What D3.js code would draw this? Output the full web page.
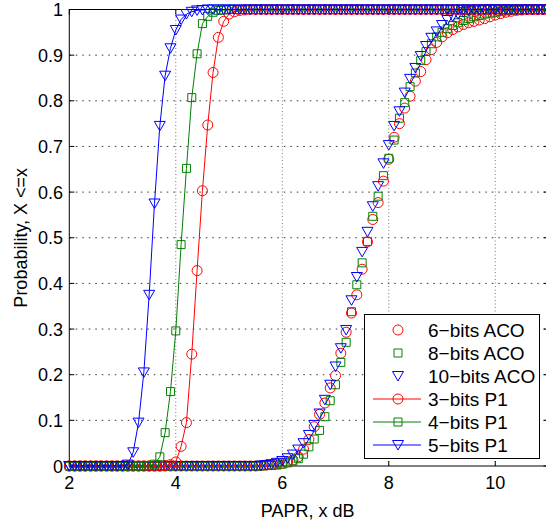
<!DOCTYPE html>
<html>
<head>
<meta charset="utf-8">
<script src="https://cdn.jsdelivr.net/npm/d3@7"></script>
<style>
  body { margin: 0; background: #fff; }
  svg text { font-family: "Liberation Sans", Arial, Helvetica, sans-serif; fill: #000; }
</style>
</head>
<body>
<div id="chart"></div>
<script>
// PAPR sample points (dB)
const papr = [
  2.0, 2.1, 2.2, 2.3, 2.4, 2.5, 2.6, 2.7, 2.8, 2.9,
  3.0, 3.1, 3.2, 3.3, 3.4, 3.5, 3.6, 3.7, 3.8, 3.9,
  4.0, 4.1, 4.2, 4.3, 4.4, 4.5, 4.6, 4.7, 4.8, 4.9,
  5.0, 5.1, 5.2, 5.3, 5.4, 5.5, 5.6, 5.7, 5.8, 5.9,
  6.0, 6.1, 6.2, 6.3, 6.4, 6.5, 6.6, 6.7, 6.8, 6.9,
  7.0, 7.1, 7.2, 7.3, 7.4, 7.5, 7.6, 7.7, 7.8, 7.9,
  8.0, 8.1, 8.2, 8.3, 8.4, 8.5, 8.6, 8.7, 8.8, 8.9,
  9.0, 9.1, 9.2, 9.3, 9.4, 9.5, 9.6, 9.7, 9.8, 9.9,
  10.0, 10.1, 10.2, 10.3, 10.4, 10.5, 10.6, 10.7, 10.8, 10.9,
  11.0
];

// CDF values, P(X <= x)
const aco6 = [
  0, 0, 0, 0, 0, 0, 0, 0, 0, 0,
  0, 0, 0, 0, 0, 0, 0, 0, 0, 0,
  0, 0, 0, 0, 0, 0, 0, 0, 0, 0,
  0, 0, 0, 0, 0, 0, 0.001, 0.002, 0.003, 0.005,
  0.006, 0.009, 0.013, 0.02, 0.037, 0.058, 0.086, 0.113, 0.138, 0.171,
  0.198, 0.247, 0.293, 0.335, 0.375, 0.431, 0.491, 0.54, 0.577, 0.624,
  0.672, 0.72, 0.75, 0.784, 0.81, 0.843, 0.864, 0.89, 0.912, 0.928,
  0.94, 0.949, 0.956, 0.962, 0.967, 0.971, 0.974, 0.977, 0.98, 0.984,
  0.988, 0.991, 0.994, 0.996, 0.998, 0.999, 1, 1, 1, 1,
  1
];
const aco8 = [
  0, 0, 0, 0, 0, 0, 0, 0, 0, 0,
  0, 0, 0, 0, 0, 0, 0, 0, 0, 0,
  0, 0, 0, 0, 0, 0, 0, 0, 0, 0,
  0, 0, 0, 0, 0, 0, 0, 0.001, 0.001, 0.002,
  0.004, 0.007, 0.011, 0.016, 0.026, 0.042, 0.059, 0.078, 0.108, 0.143,
  0.178, 0.227, 0.271, 0.338, 0.397, 0.445, 0.492, 0.547, 0.591, 0.636,
  0.674, 0.714, 0.762, 0.796, 0.831, 0.861, 0.888, 0.908, 0.925, 0.94,
  0.95, 0.958, 0.965, 0.971, 0.976, 0.98, 0.984, 0.987, 0.99, 0.992,
  0.994, 0.996, 0.997, 0.998, 0.999, 1, 1, 1, 1, 1,
  1
];
const aco10 = [
  0, 0, 0, 0, 0, 0, 0, 0, 0, 0,
  0, 0, 0, 0, 0, 0, 0, 0, 0, 0,
  0, 0, 0, 0, 0, 0, 0, 0, 0, 0,
  0, 0, 0, 0, 0, 0, 0.001, 0.002, 0.004, 0.007,
  0.011, 0.017, 0.025, 0.036, 0.05, 0.068, 0.09, 0.115, 0.145, 0.178,
  0.218, 0.258, 0.298, 0.363, 0.414, 0.469, 0.513, 0.569, 0.613, 0.663,
  0.703, 0.745, 0.777, 0.818, 0.848, 0.872, 0.898, 0.92, 0.938, 0.952,
  0.966, 0.977, 0.985, 0.99, 0.994, 0.996, 0.998, 0.999, 1, 1,
  1, 1, 1, 1, 1, 1, 1, 1, 1, 1,
  1
];
const p1bits3 = [
  0, 0, 0, 0, 0, 0, 0, 0, 0, 0,
  0, 0, 0, 0, 0, 0, 0, 0, 0.001, 0.003,
  0.009, 0.043, 0.095, 0.245, 0.428, 0.603, 0.747, 0.862, 0.939, 0.974,
  0.99, 0.995, 0.998, 0.999, 1, 1, 1, 1, 1, 1,
  1, 1, 1, 1, 1, 1, 1, 1, 1, 1,
  1, 1, 1, 1, 1, 1, 1, 1, 1, 1,
  1, 1, 1, 1, 1, 1, 1, 1, 1, 1,
  1, 1, 1, 1, 1, 1, 1, 1, 1, 1,
  1, 1, 1, 1, 1, 1, 1, 1, 1, 1,
  1
];
const p1bits4 = [
  0, 0, 0, 0, 0, 0, 0, 0, 0, 0,
  0, 0, 0, 0, 0, 0.001, 0.004, 0.02, 0.073, 0.163,
  0.296, 0.485, 0.652, 0.807, 0.903, 0.969, 0.985, 0.994, 0.998, 0.999,
  1, 1, 1, 1, 1, 1, 1, 1, 1, 1,
  1, 1, 1, 1, 1, 1, 1, 1, 1, 1,
  1, 1, 1, 1, 1, 1, 1, 1, 1, 1,
  1, 1, 1, 1, 1, 1, 1, 1, 1, 1,
  1, 1, 1, 1, 1, 1, 1, 1, 1, 1,
  1, 1, 1, 1, 1, 1, 1, 1, 1, 1,
  1
];
const p1bits5 = [
  0, 0, 0, 0, 0, 0, 0, 0, 0, 0,
  0, 0.003, 0.03, 0.095, 0.205, 0.375, 0.575, 0.745, 0.855, 0.915,
  0.955, 0.978, 0.99, 0.995, 0.998, 0.999, 1, 1, 1, 1,
  1, 1, 1, 1, 1, 1, 1, 1, 1, 1,
  1, 1, 1, 1, 1, 1, 1, 1, 1, 1,
  1, 1, 1, 1, 1, 1, 1, 1, 1, 1,
  1, 1, 1, 1, 1, 1, 1, 1, 1, 1,
  1, 1, 1, 1, 1, 1, 1, 1, 1, 1,
  1, 1, 1, 1, 1, 1, 1, 1, 1, 1,
  1
];

const seriesNames = ["6\u2212bits ACO", "8\u2212bits ACO", "10\u2212bits ACO", "3\u2212bits P1", "4\u2212bits P1", "5\u2212bits P1"];
const seriesValues = [aco6, aco8, aco10, p1bits3, p1bits4, p1bits5];

const xTicks = [2, 4, 6, 8, 10];
const yTicks = [0, 0.1, 0.2, 0.3, 0.4, 0.5, 0.6, 0.7, 0.8, 0.9, 1];
const yTickLabels = ["0", "0.1", "0.2", "0.3", "0.4", "0.5", "0.6", "0.7", "0.8", "0.9", "1"];

// styles per series (same order as names)
const styles = [
  {color: "#ff0000", marker: "circle", line: false},
  {color: "#008000", marker: "square", line: false},
  {color: "#0000ff", marker: "triangle", line: false},
  {color: "#ff0000", marker: "circle", line: true},
  {color: "#008000", marker: "square", line: true},
  {color: "#0000ff", marker: "triangle", line: true}
];

const markerPaths = {
  circle: "M-5,0a5,5 0 1,0 10,0a5,5 0 1,0 -10,0",
  square: "M-4,-4h8v8h-8z",
  triangle: "M-5.5,-4.5L5.5,-4.5L0,5Z"
};

const W = 546, H = 525;
const plot = {left: 69.3, right: 548.5, top: 9.5, bottom: 466};

const svg = d3.select("#chart").append("svg")
    .attr("width", W)
    .attr("height", H);

const x = d3.scaleLinear().domain([2, 11]).range([plot.left, plot.right]);
const y = d3.scaleLinear().domain([0, 1]).range([plot.bottom, plot.top]);

// background
svg.append("rect")
    .attr("width", W).attr("height", H)
    .attr("fill", "#fff");

// grid
let grid = svg.append("g").attr("class", "grid");
grid.selectAll(".hgrid")
    .data(yTicks.filter(d => d > 0 && d < 1))
    .enter().append("line")
    .attr("x1", plot.left).attr("x2", plot.right)
    .attr("y1", d => y(d)).attr("y2", d => y(d))
    .attr("stroke", "#333")
    .attr("stroke-width", 1)
    .attr("stroke-dasharray", "1.5,5");
grid.selectAll(".vgrid")
    .data(xTicks.filter(d => d > 2))
    .enter().append("line")
    .attr("x1", d => x(d)).attr("x2", d => x(d))
    .attr("y1", plot.top).attr("y2", plot.bottom)
    .attr("stroke", "#777")
    .attr("stroke-width", 1)
    .attr("stroke-dasharray", "1,2.5");

// axes box
svg.append("rect")
    .attr("x", plot.left).attr("y", plot.top)
    .attr("width", plot.right - plot.left)
    .attr("height", plot.bottom - plot.top)
    .attr("fill", "none")
    .attr("stroke", "#000")
    .attr("stroke-width", 1);

// inward ticks on all four sides
let ticks = svg.append("g").attr("stroke", "#000").attr("stroke-width", 1);
let tickLen = 5;
yTicks.forEach(d => {
    ticks.append("line").attr("x1", plot.left).attr("x2", plot.left + tickLen).attr("y1", y(d)).attr("y2", y(d));
    ticks.append("line").attr("x1", plot.right - tickLen).attr("x2", plot.right).attr("y1", y(d)).attr("y2", y(d));
});
xTicks.forEach(d => {
    ticks.append("line").attr("x1", x(d)).attr("x2", x(d)).attr("y1", plot.bottom).attr("y2", plot.bottom - tickLen);
    ticks.append("line").attr("x1", x(d)).attr("x2", x(d)).attr("y1", plot.top).attr("y2", plot.top + tickLen);
});

// tick labels
svg.append("g").selectAll("text")
    .data(yTicks)
    .enter().append("text")
    .attr("x", 63)
    .attr("y", d => y(d) + 6.5)
    .attr("text-anchor", "end")
    .style("font-size", "18px")
    .text((d, i) => yTickLabels[i]);
svg.append("g").selectAll("text")
    .data(xTicks)
    .enter().append("text")
    .attr("x", d => x(d))
    .attr("y", 489)
    .attr("text-anchor", "middle")
    .style("font-size", "18px")
    .text(d => d);

// axis labels
svg.append("text")
    .attr("x", (plot.left + 546) / 2)
    .attr("y", 517)
    .attr("text-anchor", "middle")
    .style("font-size", "18px")
    .text("PAPR, x dB");
svg.append("text")
    .attr("transform", `translate(27, ${(plot.top + plot.bottom) / 2}) rotate(-90)`)
    .attr("text-anchor", "middle")
    .style("font-size", "18px")
    .text("Probability, X <=x");

// data
let lineGen = d3.line()
    .x((d, i) => x(papr[i]))
    .y(d => y(d));

seriesValues.forEach((vals, s) => {
    let st = styles[s];
    let g = svg.append("g").attr("class", "series");
    if (st.line) {
        g.append("path")
            .attr("d", lineGen(vals))
            .attr("fill", "none")
            .attr("stroke", st.color)
            .attr("stroke-width", 1);
    }
    g.selectAll(".mk")
        .data(vals)
        .enter().append("path")
        .attr("class", "mk")
        .attr("transform", (d, i) => `translate(${x(papr[i])},${y(d)})`)
        .attr("d", markerPaths[st.marker])
        .attr("fill", "none")
        .attr("stroke", st.color)
        .attr("stroke-width", 1);
});

// legend
let legend = svg.append("g").attr("class", "legend");
legend.append("rect")
    .attr("x", 364.5).attr("y", 314.5)
    .attr("width", 175).attr("height", 144)
    .attr("fill", "#fff")
    .attr("stroke", "#000")
    .attr("stroke-width", 1);

seriesNames.forEach((name, s) => {
    let st = styles[s];
    let cy = 330 + s * 23;
    if (st.line) {
        legend.append("line")
            .attr("x1", 373).attr("x2", 421)
            .attr("y1", cy).attr("y2", cy)
            .attr("stroke", st.color)
            .attr("stroke-width", 1);
    }
    legend.append("path")
        .attr("transform", `translate(398,${cy})`)
        .attr("d", markerPaths[st.marker])
        .attr("fill", "none")
        .attr("stroke", st.color)
        .attr("stroke-width", 1);
    legend.append("text")
        .attr("x", 428)
        .attr("y", cy + 7)
        .style("font-size", "19px")
        .text(name);
});
</script>
</body>
</html>
